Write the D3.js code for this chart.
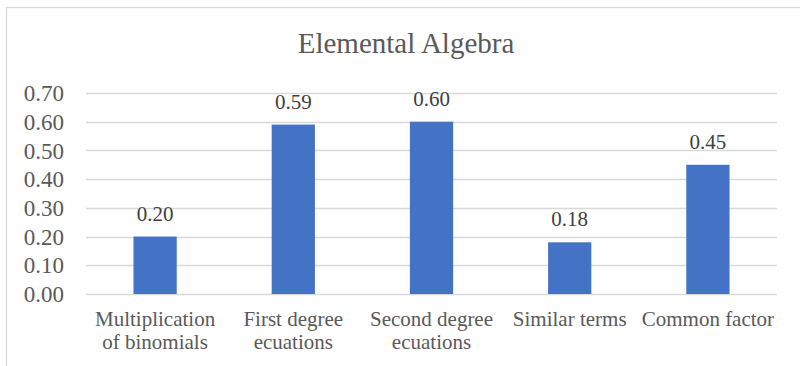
<!DOCTYPE html>
<html>
<head>
<meta charset="utf-8">
<script src="https://cdn.jsdelivr.net/npm/d3@7"></script>
<style>
  html, body { margin: 0; padding: 0; background: #fff; }
  svg { display: block; }
  text { font-family: "Liberation Serif", "Times New Roman", serif; }
</style>
</head>
<body>
<svg id="chart" width="800" height="366"></svg>
<script>
const title = "Elemental Algebra";
const categories = [
  ["Multiplication", "of binomials"],
  ["First degree", "ecuations"],
  ["Second degree", "ecuations"],
  ["Similar terms"],
  ["Common factor"]
];
const values = [0.20, 0.59, 0.60, 0.18, 0.45];
const yTicks = [0, 0.1, 0.2, 0.3, 0.4, 0.5, 0.6, 0.7];

const svg = d3.select("#chart");
const W = 800, H = 366;
const plot = { left: 86, right: 777, top: 93, bottom: 294 };

svg.append("rect").attr("x", 0).attr("y", 0).attr("width", W).attr("height", H).attr("fill", "#fff");
// chart border
svg.append("rect")
  .attr("x", 6.5).attr("y", 7.5).attr("width", 900).attr("height", 500)
  .attr("fill", "none").attr("stroke", "#D9D9D9").attr("stroke-width", 1.3);

const ids = categories.map((c, i) => i);
const x = d3.scaleBand().domain(ids).range([plot.left, plot.right]).paddingInner(0.687).paddingOuter(0.3435);
const y = d3.scaleLinear().domain([0, 0.7]).range([plot.bottom, plot.top]);

// gridlines
svg.append("g").selectAll("line").data(yTicks).join("line")
  .attr("x1", plot.left).attr("x2", plot.right)
  .attr("y1", d => Math.round(y(d)) + 0.5).attr("y2", d => Math.round(y(d)) + 0.5)
  .attr("stroke", "#D9D9D9").attr("stroke-width", 1.5);

// y axis labels
const yAxis = d3.axisLeft(y).tickValues(yTicks).tickFormat(d3.format(".2f")).tickSize(0).tickPadding(0);
const gy = svg.append("g").attr("transform", `translate(64,0)`).call(yAxis);
gy.select(".domain").remove();
gy.selectAll("text")
  .attr("fill", "#595959")
  .style("font-family", '"Liberation Serif", "Times New Roman", serif')
  .style("font-size", "23px")
  .attr("dy", "0.33em");

// bars
svg.append("g").selectAll("rect").data(values).join("rect")
  .attr("x", (d, i) => x(i))
  .attr("width", x.bandwidth())
  .attr("y", d => y(d))
  .attr("height", d => y(0) - y(d))
  .attr("fill", "#4472C4");

// data labels
svg.append("g").selectAll("text").data(values).join("text")
  .attr("x", (d, i) => x(i) + x.bandwidth() / 2)
  .attr("y", d => y(d) - 16)
  .attr("text-anchor", "middle")
  .attr("fill", "#404040")
  .style("font-size", "21px")
  .text(d => d3.format(".2f")(d));

// category labels
const xc = d3.scaleBand().domain(ids).range([plot.left, plot.right]);
const catG = svg.append("g").selectAll("text").data(categories).join("text")
  .attr("text-anchor", "middle")
  .attr("fill", "#595959")
  .style("font-size", "21px");
catG.selectAll("tspan").data((d, i) => d.map(t => ({ t, i }))).join("tspan")
  .attr("x", d => xc(d.i) + xc.bandwidth() / 2)
  .attr("y", (d, j) => 326 + j * 23)
  .text(d => d.t);

// title
svg.append("text")
  .attr("x", 406).attr("y", 53)
  .attr("text-anchor", "middle")
  .attr("fill", "#595959")
  .style("font-size", "29px")
  .text(title);
</script>
</body>
</html>
